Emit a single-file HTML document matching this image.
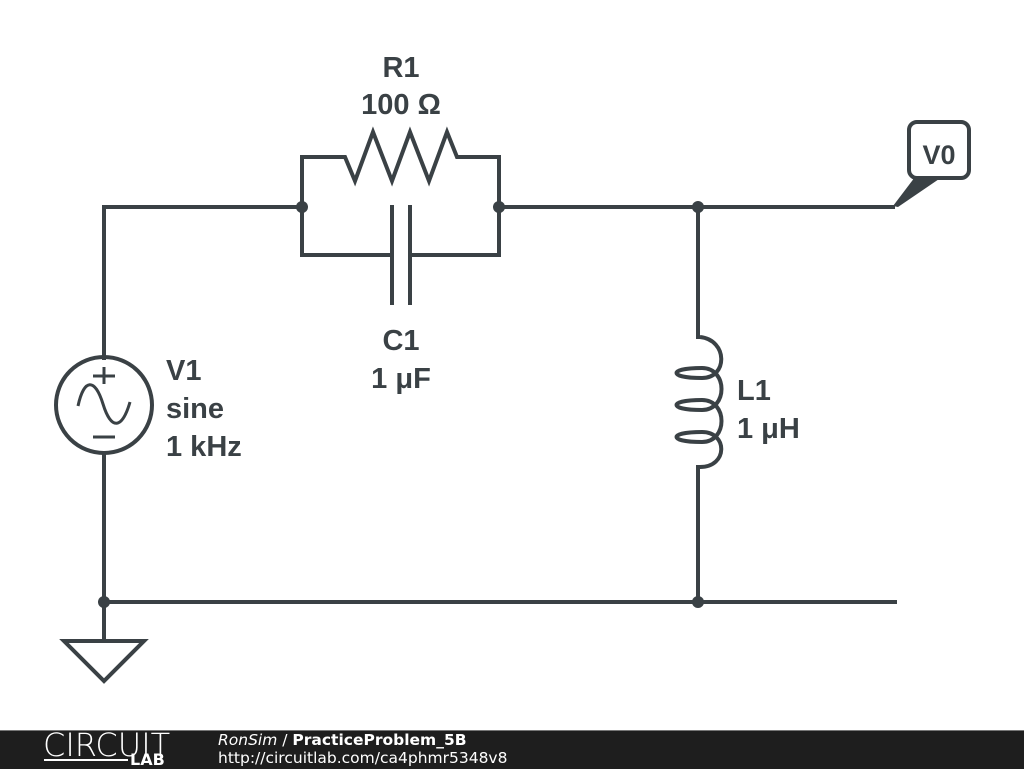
<!DOCTYPE html>
<html><head><style>
body{margin:0;width:1024px;height:768px;background:#fff;overflow:hidden;font-family:"DejaVu Sans",sans-serif;}
.ft{position:absolute;left:0;top:730px;width:1024px;height:38px;background:#1e1e1e;border-top:1px solid #777;}
</style></head><body>
<svg width="1024" height="730" style="position:absolute;left:0;top:0" xmlns="http://www.w3.org/2000/svg">
<g stroke="#3a4145" stroke-width="4" fill="none" stroke-linejoin="miter">
<polyline points="104,360 104,207 302,207"/>
<polyline points="302,207 302,157 345,157 355,181 373,132 392,181 410,132 429,181 447,132 457,157 499,157 499,207"/>
<polyline points="302,207 302,255 392,255"/>
<polyline points="410,255 499,255 499,207"/>
<line x1="392" y1="205" x2="392" y2="305"/>
<line x1="410" y1="205" x2="410" y2="305"/>
<line x1="499" y1="207" x2="895" y2="207"/>
<polyline points="698,207 698,337 700,337"/>
<path d="M700,337 C728,340 728,378 702,378 C668,378 668,368 702,368 C728,368 728,410 702,410 C668,410 668,400 702,400 C728,400 728,442 702,442 C668,442 668,432 702,432 C728,432 728,467 700,467"/>
<polyline points="700,467 698,467 698,602"/>
<circle cx="104" cy="405" r="48"/>
<line x1="104" y1="453" x2="104" y2="640"/>
<line x1="104" y1="602" x2="897" y2="602"/>
<polygon points="64,641 144,641 104,681" stroke-linejoin="miter"/>
<rect x="909" y="122" width="60" height="56" rx="8"/>
</g>
<g stroke="#3a4145" stroke-width="3" fill="none">
<line x1="104" y1="367" x2="104" y2="384"/>
<line x1="93" y1="376" x2="115" y2="376"/>
<line x1="93" y1="437" x2="115" y2="437"/>
<path d="M78,406 C84,378 95,378 103,404 C111,430 122,430 130,402"/>
</g>
<polygon points="915,177 942,177 898,207 893,206" fill="#3a4145"/>
<g fill="#3a4145">
<circle cx="302" cy="207" r="6"/><circle cx="499" cy="207" r="6"/><circle cx="698" cy="207" r="6"/>
<circle cx="104" cy="602" r="6"/><circle cx="698" cy="602" r="6"/>
</g>
<g fill="#3a4145" font-family="Liberation Sans,sans-serif" font-weight="bold" font-size="29">
<text x="401" y="77" text-anchor="middle">R1</text>
<text x="401" y="114" text-anchor="middle">100 Ω</text>
<text x="401" y="350" text-anchor="middle">C1</text>
<text x="401" y="388" text-anchor="middle">1 μF</text>
<text x="166" y="380">V1</text>
<text x="166" y="418">sine</text>
<text x="166" y="456">1 kHz</text>
<text x="737" y="400">L1</text>
<text x="737" y="438">1 μH</text>
<text x="939" y="164" text-anchor="middle" font-size="27">V0</text>
</g>
</svg>
<div class="ft">
<div style="position:absolute;left:43px;top:-2px;color:#fff;font-family:'DejaVu Sans',sans-serif;font-size:32px;font-weight:200;line-height:32px;">CIRCUIT</div>
<div style="position:absolute;left:44px;top:28px;width:84px;height:2px;background:#fff"></div>
<div style="position:absolute;left:130px;top:21px;color:#fff;font-size:16px;font-weight:bold;line-height:16px">LAB</div>
<div style="position:absolute;left:218px;top:0px;color:#fff;font-size:15.5px;line-height:18px"><i>RonSim</i> / <b>PracticeProblem_5B</b></div>
<div style="position:absolute;left:218px;top:18px;color:#fff;font-size:15.5px;line-height:18px">http://circuitlab.com/ca4phmr5348v8</div>
</div>
</body></html>
